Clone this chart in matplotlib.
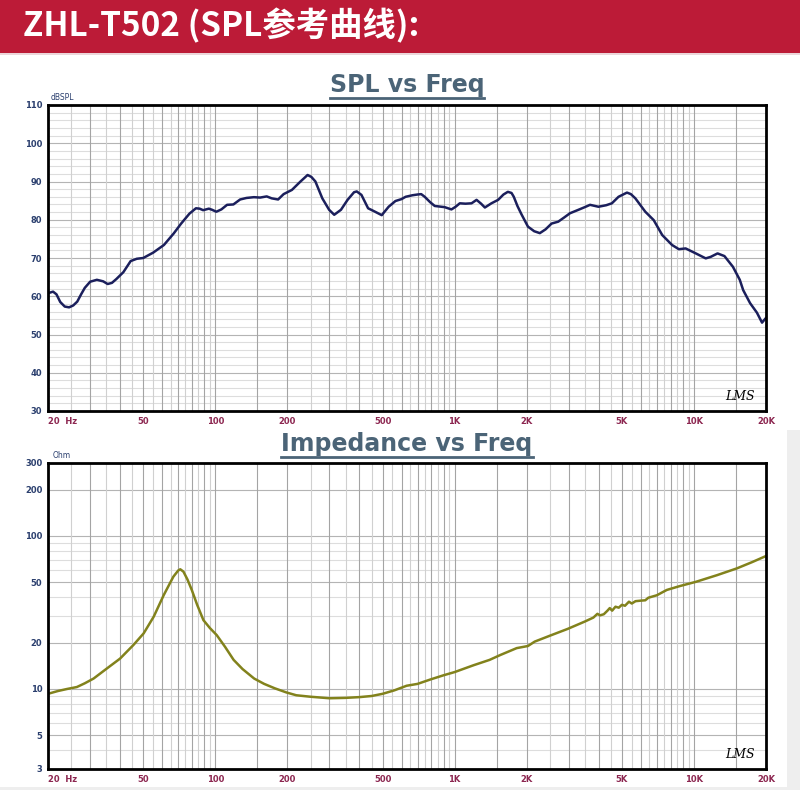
import numpy as np
import matplotlib
matplotlib.use('Agg')
import matplotlib.pyplot as plt
from matplotlib.patches import Rectangle
from matplotlib.lines import Line2D

# ---------------- data ----------------
spl_freq = [20, 21, 21.7, 22.5, 23.5, 24.5, 25.5, 26.5, 27.5, 28.5, 30, 32, 34, 35.5, 37,
            38.6, 41.3, 44.3, 47, 50, 55, 61, 67, 72, 78, 83, 86, 89, 94, 97, 101, 106,
            112, 119, 127, 135, 145, 154, 164, 172, 183, 193, 209, 227, 243, 252, 262,
            280, 299, 314, 335, 357, 380, 390, 408, 435, 465, 496, 530, 566, 600, 624,
            666, 700, 725, 750, 790, 826, 908, 970, 1010, 1051, 1110, 1177, 1235, 1290,
            1338, 1425, 1520, 1600, 1669, 1729, 1767, 1830, 1900, 2025, 2150, 2270, 2400,
            2541, 2710, 2870, 3034, 3290, 3500, 3680, 3990, 4300, 4540, 4840, 5250, 5450,
            5690, 6260, 6790, 7370, 8100, 8650, 9230, 10180, 11200, 11750, 12550, 13410,
            14550, 15540, 16060, 17160, 18330, 19250, 19910, 20000]
spl_db = [60.8, 61.2, 60.5, 58.5, 57.3, 57.1, 57.6, 58.6, 60.5, 62.2, 63.8, 64.3, 63.9, 63.2, 63.5,
          64.5, 66.3, 69.2, 69.8, 70.0, 71.4, 73.4, 76.4, 79.0, 81.6, 83.0, 82.9, 82.5, 82.9, 82.6, 82.1, 82.7,
          83.9, 84.0, 85.3, 85.7, 85.9, 85.8, 86.1, 85.6, 85.3, 86.7, 87.8, 90.0, 91.7, 91.2, 90.0,
          85.6, 82.6, 81.3, 82.6, 85.2, 87.2, 87.4, 86.5, 83.0, 82.1, 81.2, 83.4, 84.9, 85.4, 86.0,
          86.4, 86.6, 86.7, 86.0, 84.6, 83.6, 83.3, 82.7, 83.4, 84.3, 84.2, 84.3, 85.2, 84.2,
          83.2, 84.3, 85.2, 86.6, 87.3, 87.0, 86.0, 83.6, 81.5, 78.2, 77.0, 76.5, 77.5,
          79.0, 79.5, 80.6, 81.7, 82.6, 83.3, 83.9, 83.4, 83.8, 84.3, 86.0, 87.1, 86.7,
          85.6, 82.1, 79.9, 76.0, 73.4, 72.3, 72.5, 71.2, 69.9, 70.3, 71.2, 70.5,
          67.7, 64.3, 61.6, 58.2, 55.7, 53.1, 54.2, 54.3]

imp_freq = [20, 22, 24, 26.4, 28.5, 31, 35.2, 40, 45.5, 50.2, 55.3, 60.9, 66.8, 70, 71.4, 73.6,
            76.5, 79.8, 84, 89.2, 95, 101.4, 110, 119.3, 130, 145.4, 160, 177.4, 198, 218, 250,
            300, 350, 400, 450, 500, 560, 630, 700, 800, 900, 1000, 1200, 1400, 1555, 1817, 2025,
            2160, 2500, 2966, 3500, 3800, 3950, 4050, 4200, 4350, 4450, 4550, 4700, 4850, 5000,
            5150, 5350, 5500, 5700, 6000, 6260, 6450, 7000, 7700, 8700, 10200, 12500, 15100,
            17500, 20000]
imp_ohm = [9.3, 9.7, 10.0, 10.3, 10.9, 11.7, 13.6, 15.8, 19.4, 23.1, 29.7, 41.1, 54.2, 59.5, 60.6, 58.5,
           52.0, 44.3, 35.5, 28.2, 25.0, 22.5, 18.8, 15.5, 13.5, 11.7, 10.8, 10.1, 9.5, 9.1, 8.9,
           8.7, 8.75, 8.85, 9.0, 9.3, 9.8, 10.5, 10.8, 11.6, 12.3, 12.9, 14.3, 15.5, 16.7, 18.5, 19.1,
           20.4, 22.3, 24.7, 27.6, 29.3, 31.0, 30.3, 30.8, 32.5, 33.8, 32.5, 34.5, 34.0, 35.5,
           35.0, 37.2, 36.2, 37.5, 37.8, 38.0, 39.5, 41.0, 44.4, 47.0, 50.2, 55.5, 61.4,
           67.5, 74.0]

x_tick_vals = [20, 50, 100, 200, 500, 1000, 2000, 5000, 10000, 20000]
x_tick_labels = ['20  Hz', '50', '100', '200', '500', '1K', '2K', '5K', '10K', '20K']
spl_yticks = [30, 40, 50, 60, 70, 80, 90, 100, 110]
imp_yticks = [3, 5, 10, 20, 50, 100, 200, 300]
imp_ygrid = [3, 4, 5, 6, 7, 8, 9, 10, 20, 30, 40, 50, 60, 70, 80, 90, 100, 200, 300]

# ---------------- figure ----------------
W = H = 800
fig = plt.figure(figsize=(8, 8), dpi=100)
fig.patch.set_facecolor('white')

def fx(px):
    return px / W

def fy(py):
    return 1 - py / H

# header bar
fig.patches.append(Rectangle((0, fy(53)), 1, 53 / H, transform=fig.transFigure,
                             facecolor='#bc1b37', edgecolor='none', zorder=0))
fig.patches.append(Rectangle((0, fy(55)), 1, 2 / H, transform=fig.transFigure,
                             facecolor='#ecd6da', edgecolor='none', zorder=0))
fig.text(fx(23), fy(26), 'ZHL-T502 (SPL参考曲线):', color='white', fontsize=24,
         fontweight='bold', family=['Noto Sans CJK SC', 'DejaVu Sans'],
         va='center', ha='left')

# light gray side/bottom strips
fig.patches.append(Rectangle((fx(787), fy(790)), fx(13), 360 / H, transform=fig.transFigure,
                             facecolor='#eeeeee', edgecolor='none', zorder=0))
fig.patches.append(Rectangle((0, fy(790)), fx(787), 3 / H, transform=fig.transFigure,
                             facecolor='#eeeeee', edgecolor='none', zorder=0))

ytick_color = '#2b3f6e'
xtick_color = '#8c2650'
v_dark = '#a4a4a4'
v_light = '#d0d0d0'
h_dark = '#b4b4b4'
h_light = '#dddddd'

# frequency grid positions
grid_dark, grid_light = [], []
for base in (20, 200, 2000):
    for m in np.arange(1, 5, 0.25):
        f = base * m
        if abs((m * 2) - round(m * 2)) < 1e-9:
            grid_dark.append(f)
        else:
            grid_light.append(f)
    grid_dark.append(base * 5)
    grid_dark.append(base * 7.5)


def setup_axes(ax):
    ax.set_xscale('log')
    ax.set_xlim(20, 20000)
    for f in grid_light:
        ax.axvline(f, color=v_light, lw=0.8, zorder=2)
    for f in grid_dark:
        ax.axvline(f, color=v_dark, lw=0.8, zorder=2)
    ax.xaxis.set_minor_locator(matplotlib.ticker.NullLocator())
    ax.yaxis.set_minor_locator(matplotlib.ticker.NullLocator())
    ax.set_xticks(x_tick_vals)
    ax.set_xticklabels(x_tick_labels)
    ax.tick_params(axis='x', length=0, pad=4, labelsize=6, labelcolor=xtick_color)
    ax.tick_params(axis='y', length=0, pad=4, labelsize=6, labelcolor=ytick_color)
    for lbl in ax.get_xticklabels():
        lbl.set_fontweight('bold')
    ax.get_xticklabels()[0].set_horizontalalignment('left')
    for s in ax.spines.values():
        s.set_linewidth(2)
        s.set_color('black')
        s.set_zorder(5)


# ---- SPL axes ----
ax1 = fig.add_axes([fx(48), fy(411), fx(766 - 48), (411 - 105) / H])
setup_axes(ax1)
ax1.set_ylim(30, 110)
for v in range(30, 111, 2):
    ax1.axhline(v, color=h_dark if v % 10 == 0 else h_light, lw=0.8, zorder=1)
ax1.set_yticks(spl_yticks)
ax1.set_yticklabels([str(v) for v in spl_yticks])
for lbl in ax1.get_yticklabels():
    lbl.set_fontweight('bold')
ax1.plot(spl_freq, spl_db, color='#1b1f5c', lw=1.8, zorder=4, solid_joinstyle='round')
ax1.text(0.004, 1.01, 'dBSPL', transform=ax1.transAxes, fontsize=5.5, color=ytick_color,
         ha='left', va='bottom')
ax1.text(0.985, 0.025, 'LMS', transform=ax1.transAxes, fontsize=9, color='black',
         ha='right', va='bottom', style='italic', family='DejaVu Serif')

# ---- Impedance axes ----
ax2 = fig.add_axes([fx(48), fy(769), fx(766 - 48), (769 - 463) / H])
ax2.set_yscale('log')
setup_axes(ax2)
ax2.set_ylim(3, 300)
for v in imp_ygrid:
    ax2.axhline(v, color=h_dark if v in imp_yticks else h_light, lw=0.8, zorder=1)
ax2.set_yticks(imp_yticks)
ax2.set_yticklabels([str(v) for v in imp_yticks])
ax2.yaxis.set_minor_locator(matplotlib.ticker.NullLocator())
for lbl in ax2.get_yticklabels():
    lbl.set_fontweight('bold')
ax2.plot(imp_freq, imp_ohm, color='#82821c', lw=1.8, zorder=4, solid_joinstyle='round')
ax2.text(0.006, 1.01, 'Ohm', transform=ax2.transAxes, fontsize=5.5, color=ytick_color,
         ha='left', va='bottom')
ax2.text(0.985, 0.025, 'LMS', transform=ax2.transAxes, fontsize=9, color='black',
         ha='right', va='bottom', style='italic', family='DejaVu Serif')

# ---- titles with underline ----
title_color = '#4b6477'
t1 = fig.text(fx(407), fy(92), 'SPL vs Freq', fontsize=17, fontweight='bold',
              color=title_color, ha='center', va='baseline', family='DejaVu Sans')
t2 = fig.text(fx(407), fy(451), 'Impedance vs Freq', fontsize=17, fontweight='bold',
              color=title_color, ha='center', va='baseline', family='DejaVu Sans')
fig.canvas.draw()
r = fig.canvas.get_renderer()
for t, base_y in ((t1, 92), (t2, 451)):
    bb = t.get_window_extent(renderer=r)
    x0, x1 = bb.x0 / W, bb.x1 / W
    fig.lines.append(Line2D([x0, x1], [fy(base_y + 6), fy(base_y + 6)],
                            transform=fig.transFigure, color=title_color, lw=2))

fig.savefig('out.png', dpi=100, facecolor='white')
